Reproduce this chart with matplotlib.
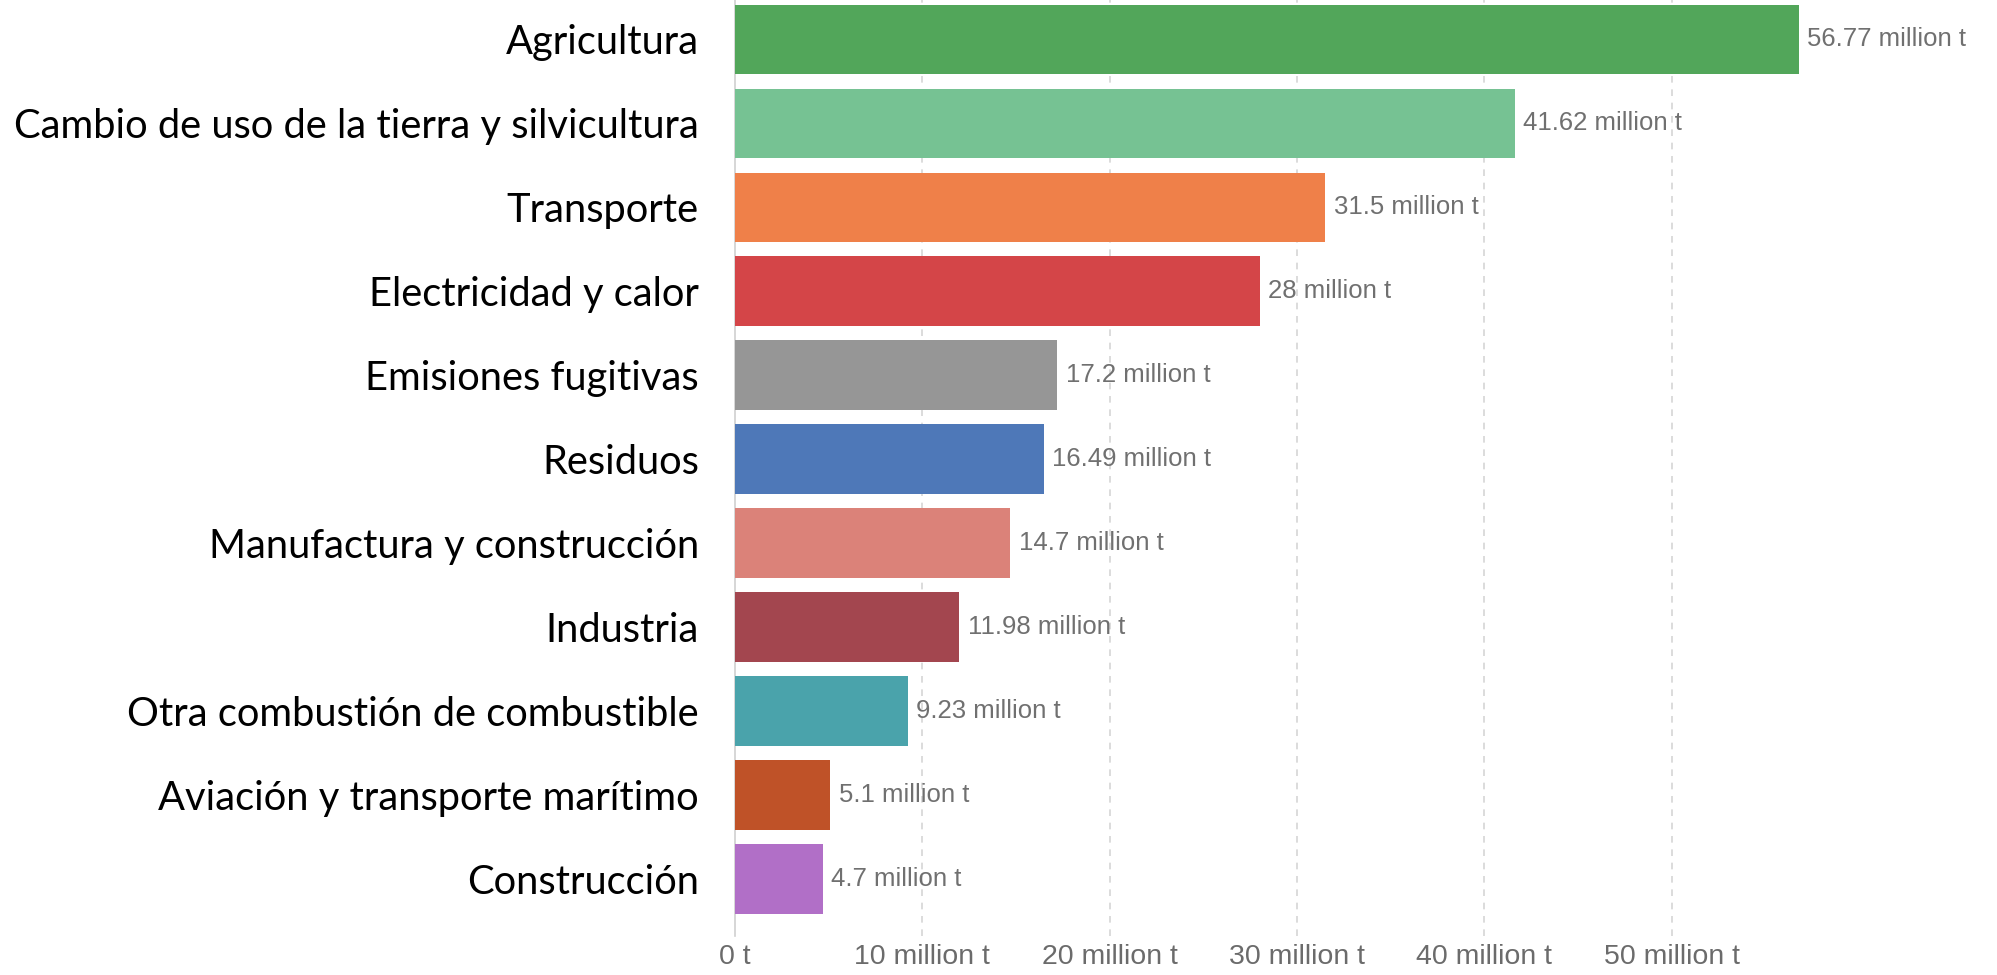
import matplotlib
matplotlib.use("Agg")
import matplotlib.pyplot as plt
from matplotlib.ticker import FixedLocator

categories = ["Agricultura", "Cambio de uso de la tierra y silvicultura", "Transporte",
              "Electricidad y calor", "Emisiones fugitivas", "Residuos",
              "Manufactura y construcción", "Industria", "Otra combustión de combustible",
              "Aviación y transporte marítimo", "Construcción"]
values = [56.77, 41.62, 31.5, 28, 17.2, 16.49, 14.7, 11.98, 9.23, 5.1, 4.7]
value_labels = ["56.77 million t", "41.62 million t", "31.5 million t", "28 million t",
                "17.2 million t", "16.49 million t", "14.7 million t", "11.98 million t",
                "9.23 million t", "5.1 million t", "4.7 million t"]
colors = ["#52a65a", "#76c293", "#ef8049", "#d44548", "#969696", "#4e78b8",
          "#db8279", "#a3464f", "#4aa3ab", "#bf5228", "#b16fc7"]
xticks = [0, 10, 20, 30, 40, 50]
xtick_labels = ["0 t", "10 million t", "20 million t", "30 million t", "40 million t", "50 million t"]

fig = plt.figure(figsize=(19.97, 9.75), dpi=100)
ax = fig.add_axes([0.368, 0.04, 0.563, 0.96])

ypos = list(range(len(categories)))
ax.barh(ypos, values, height=0.83, color=colors, zorder=3)
for y, v, lab in zip(ypos, values, value_labels):
    ax.text(v + 0.45, y, lab, va="center", ha="left", fontsize=18.5,
            family="Liberation Sans", color="#707070", zorder=4)

ax.set_xlim(0, 60)
ax.set_ylim(10.68, -0.47)
ax.set_yticks(ypos)
ax.set_yticklabels(categories, fontsize=28.7, family="Lato", color="black")
ax.xaxis.set_major_locator(FixedLocator(xticks))
ax.set_xticklabels(xtick_labels, fontsize=20.5, family="Liberation Sans", color="#6b6b6b")
ax.tick_params(axis="y", length=0, pad=26)
ax.tick_params(axis="x", length=0, pad=6)
for s in ["top", "right", "bottom"]:
    ax.spines[s].set_visible(False)
ax.spines["left"].set_color("#d0d0d0")
ax.spines["left"].set_linewidth(1.2)
for t in xticks[1:]:
    ax.axvline(t, color="#d6d6d6", linestyle=(0, (4, 4)), linewidth=1.2, zorder=1)

fig.savefig("out.png", dpi=100)
